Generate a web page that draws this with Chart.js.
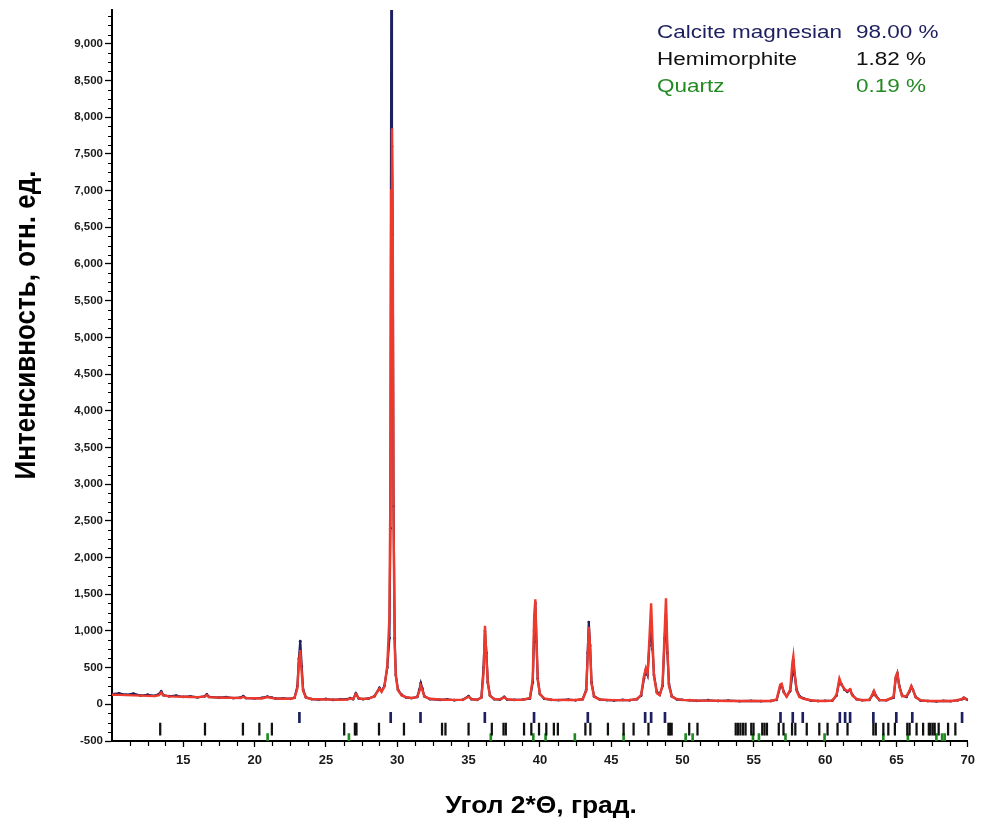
<!DOCTYPE html>
<html>
<head>
<meta charset="utf-8">
<script src="https://cdn.jsdelivr.net/npm/chart.js@4.4.1/dist/chart.umd.min.js"></script>
<style>
  html, body { margin: 0; padding: 0; background: #fff; }
  #wrap { width: 981px; height: 832px; }
</style>
</head>
<body>
<div id="wrap"><canvas id="c" width="981" height="832"></canvas></div>
<script>
// ---- data ----
const twoTheta = [
  10.0,10.5,11.0,11.5,12.0,12.5,13.0,
  13.3,13.45,13.6,14.0,14.5,15.0,15.5,16.0,
  16.5,16.65,16.8,17.5,18.0,18.5,19.0,19.2,19.4,20.0,
  20.5,20.9,21.2,21.5,22.0,22.5,22.8,
  23.0,23.1,23.2,23.3,23.4,23.6,
  24.0,24.5,25.0,25.5,26.0,26.5,26.7,26.9,27.1,27.3,27.6,28.0,28.4,28.75,28.9,29.1,
  29.3,29.45,29.52,29.58,29.63,29.68,29.74,29.82,29.9,30.05,30.3,30.6,
  31.0,31.4,31.55,31.65,31.75,31.9,32.3,33.0,33.5,34.0,34.6,35.0,35.2,35.6,35.9,
  36.05,36.15,36.25,36.35,36.5,36.8,37.2,37.5,37.7,38.2,38.8,39.3,
  39.5,39.6,39.68,39.76,39.85,40.0,40.3,40.8,41.3,42.0,42.5,43.0,
  43.25,43.35,43.43,43.52,43.62,43.8,44.2,44.7,45.2,45.8,46.3,46.8,
  47.1,47.3,47.43,47.55,47.68,47.8,47.9,48.0,48.2,48.4,48.6,48.75,48.84,48.94,49.05,49.25,49.6,
  50.0,50.5,51.0,51.8,52.5,53.2,54.0,54.8,55.5,56.2,56.6,
  56.85,56.95,57.1,57.3,57.55,57.7,57.77,57.85,58.0,58.2,58.5,59.0,59.5,60.0,60.5,
  60.8,61.0,61.15,61.35,61.55,61.75,61.9,62.2,62.6,63.1,63.3,63.42,63.55,63.8,64.3,
  64.8,64.95,65.06,65.2,65.4,65.7,65.9,66.04,66.15,66.35,66.7,67.2,67.8,68.3,68.8,69.3,69.6,69.72,69.85,70.0
];
const observed = [
  140,150,130,145,120,130,115,
  140,175,125,110,118,100,108,95,
  110,135,100,92,98,85,90,110,85,80,
  88,105,90,78,80,75,90,
  250,620,860,520,200,95,
  70,65,72,60,66,70,85,70,150,80,70,80,110,225,180,250,
  500,900,2400,9800,7600,6400,2700,900,400,200,130,95,
  85,100,200,290,220,110,70,60,68,55,62,112,70,60,95,
  500,1000,700,300,120,70,65,100,65,60,65,80,
  300,1000,1380,850,350,140,75,60,58,64,55,70,
  200,700,1120,800,300,110,65,58,52,60,55,70,
  120,350,470,400,800,1050,750,400,170,130,250,900,1220,700,280,110,68,
  60,55,48,55,45,50,42,48,42,45,60,
  240,260,170,110,180,400,600,420,200,110,80,50,45,48,50,
  120,320,270,200,170,200,130,70,55,60,120,175,120,58,55,
  90,350,420,250,120,100,170,240,200,100,50,45,40,48,42,55,70,88,75,60
];
const calculated = [
  130,128,125,122,118,115,112,
  125,160,120,108,105,102,100,98,
  105,125,98,92,90,88,86,100,84,82,
  80,100,85,78,76,75,85,
  220,560,740,430,180,90,
  72,68,66,64,63,66,80,70,140,80,72,80,105,215,170,240,
  520,1200,3000,7000,7850,6800,2500,800,380,190,120,100,
  85,100,180,255,200,105,75,65,62,60,62,105,70,62,90,
  420,1070,650,280,115,72,68,95,68,60,62,85,
  350,1200,1430,900,330,140,80,62,60,58,58,68,
  180,650,1055,780,280,100,65,60,57,57,58,70,
  130,390,490,420,900,1375,850,380,150,125,260,1000,1445,750,250,105,70,
  60,56,52,50,48,46,45,44,44,46,65,
  270,280,160,105,200,560,655,450,180,100,75,55,46,46,50,
  130,350,270,210,180,205,120,70,55,62,130,181,110,60,56,
  100,380,427,240,110,110,180,250,200,95,55,46,44,44,46,55,72,91,72,60
];
// Bragg reflection positions (2θ) of each phase
const calcitePeaks = [23.14,29.54,31.63,36.14,39.59,43.36,47.38,47.80,48.77,56.87,57.73,58.43,61.03,61.40,61.75,63.38,64.99,66.11,69.60];
const hemimorphitePeaks = [13.38,16.52,19.18,20.33,21.21,26.28,27.03,27.14,28.72,30.47,33.14,33.38,35.0,36.63,37.45,37.61,38.89,39.40,39.94,
  40.45,40.98,41.26,43.19,43.54,44.77,45.87,46.57,47.61,49.01,49.12,49.24,50.47,51.05,53.73,53.89,54.06,54.24,54.42,54.82,54.98,
  55.59,55.75,55.92,56.75,57.08,57.68,57.91,58.71,59.59,60.17,60.87,61.57,63.38,63.55,64.08,64.43,64.89,65.76,65.92,66.41,66.87,
  67.27,67.38,67.54,67.68,67.96,68.62,69.13];
const quartzPeaks = [20.91,26.61,36.56,39.54,40.40,42.45,45.87,50.22,50.71,54.94,55.36,57.22,59.96,64.08,65.80,67.80,68.20,68.38];
const phaseNames = ['Calcite magnesian','Hemimorphite','Quartz'];
const phasePercents = ['98.00 %','1.82 %','0.19 %'];
const xTickValues = [15,20,25,30,35,40,45,50,55,60,65,70];
const yTickValues = [-500,0,500,1000,1500,2000,2500,3000,3500,4000,4500,5000,5500,6000,6500,7000,7500,8000,8500,9000];
const xTitle = 'Угол 2*Θ, град.';
const yTitle = 'Интенсивность, отн. ед.';

// ---- styling ----
const NAVY = '#1d1f5e', RED = '#ee3a2c', BLACK = '#111111', GREEN = '#238a23';
const FONT = 'Arial, "Liberation Sans", Helvetica, sans-serif';
const bands = { calcite: [-110, -250], hemi: [-255, -420], quartz: [-400, -500] };

const obsPts = twoTheta.map((t, i) => ({ x: t, y: observed[i] }));
const calcPts = twoTheta.map((t, i) => ({ x: t, y: calculated[i] }));
const tickSet = (arr, band) => arr.map(t => ({ x: t, y: band }));

const decor = {
  id: 'decor',
  afterDraw(chart) {
    const { ctx, chartArea: a, scales: { x, y } } = chart;
    ctx.save();
    // minor ticks
    ctx.strokeStyle = '#000'; ctx.lineWidth = 1.2;
    ctx.beginPath();
    for (let k = 0; k * 125 - 500 <= 9460; k++) {
      const v = k * 125 - 500;
      if (v % 500 === 0) continue;
      const py = Math.round(y.getPixelForValue(v)) + 0.5;
      ctx.moveTo(a.left - 4, py); ctx.lineTo(a.left, py);
    }
    for (let k = 1; 10 + k * 1.25 < 70; k++) {
      if (k % 4 === 0) continue;
      const px = Math.round(x.getPixelForValue(10 + k * 1.25)) + 0.5;
      ctx.moveTo(px, a.bottom); ctx.lineTo(px, a.bottom + 5);
    }
    ctx.stroke();
    // legend text (phase names + percentages)
    const cols = [NAVY, BLACK, GREEN];
    const base = [38, 65, 92];
    ctx.font = '18px ' + FONT;
    ctx.textBaseline = 'alphabetic';
    ctx.textAlign = 'left';
    for (let i = 0; i < 3; i++) {
      ctx.fillStyle = cols[i];
      ctx.save(); ctx.translate(657, base[i]); ctx.scale(1.25, 1.05); ctx.fillText(phaseNames[i], 0, 0); ctx.restore();
      ctx.save(); ctx.translate(856, base[i]); ctx.scale(1.25, 1.05); ctx.fillText(phasePercents[i], 0, 0); ctx.restore();
    }
    // axis titles
    ctx.fillStyle = '#000';
    ctx.textAlign = 'center';
    ctx.textBaseline = 'middle';
    ctx.font = 'bold 22px ' + FONT;
    ctx.save(); ctx.translate(541, 807); ctx.scale(1.2, 1.05); ctx.fillText(xTitle, 0, 0); ctx.restore();
    ctx.font = 'bold 26px ' + FONT;
    ctx.save(); ctx.translate(27, 325); ctx.rotate(-Math.PI / 2); ctx.scale(1.0, 1.1); ctx.fillText(yTitle, 0, 0); ctx.restore();
    ctx.restore();
  }
};

new Chart(document.getElementById('c'), {
  type: 'line',
  data: {
    datasets: [
      { label: 'calc', data: calcPts, borderColor: RED, borderWidth: 2.4, pointRadius: 0, tension: 0, order: 0 },
      { label: 'obs', data: obsPts, borderColor: NAVY, backgroundColor: NAVY, borderWidth: 2.2, pointRadius: 1.4,
        pointBorderWidth: 0, tension: 0, order: 1 },
      { type: 'bar', label: 'Calcite magnesian', data: tickSet(calcitePeaks, bands.calcite), backgroundColor: NAVY,
        barThickness: 2, grouped: false, borderWidth: 0, order: 2 },
      { type: 'bar', label: 'Hemimorphite', data: tickSet(hemimorphitePeaks, bands.hemi), backgroundColor: BLACK,
        barThickness: 1.6, grouped: false, borderWidth: 0, order: 2 },
      { type: 'bar', label: 'Quartz', data: tickSet(quartzPeaks, bands.quartz), backgroundColor: GREEN,
        barThickness: 2, grouped: false, borderWidth: 0, order: 2 }
    ]
  },
  options: {
    responsive: false,
    animation: false,
    layout: { padding: { top: 10, right: 9, left: 0, bottom: 0 } },
    plugins: { legend: { display: false }, tooltip: { enabled: false } },
    scales: {
      x: {
        type: 'linear', min: 10, max: 70, offset: false,
        afterBuildTicks: s => { s.ticks = xTickValues.map(v => ({ value: v })); },
        afterFit: s => { s.height = 91; },
        grid: { drawOnChartArea: false, drawTicks: true, tickLength: 6, tickColor: '#000', tickWidth: 1.3, offset: false },
        border: { display: true, color: '#000', width: 2 },
        ticks: { color: '#1a1a1a', font: { family: FONT, size: 13, weight: 'bold' }, padding: 6, maxRotation: 0, autoSkip: false }
      },
      y: {
        type: 'linear', min: -500, max: 9460,
        afterBuildTicks: s => { s.ticks = yTickValues.map(v => ({ value: v })); },
        afterFit: s => { s.width = 112; },
        grid: { drawOnChartArea: false, drawTicks: true, tickLength: 7, tickColor: '#000', tickWidth: 1.3 },
        border: { display: true, color: '#000', width: 2 },
        ticks: { color: '#1a1a1a', font: { family: FONT, size: 11.5, weight: 'bold' }, padding: 2, autoSkip: false,
          callback: v => v.toLocaleString('en-US') }
      }
    }
  },
  plugins: [decor]
});
</script>
</body>
</html>
